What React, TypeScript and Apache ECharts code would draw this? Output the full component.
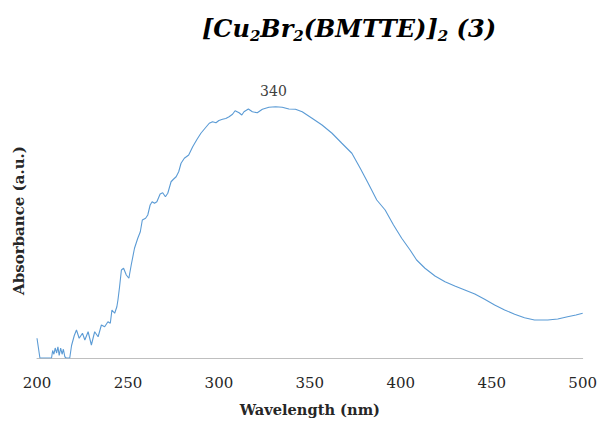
import React, { useEffect, useRef } from "react";
import * as echarts from "echarts";

const wavelength = [
  200, 201.6, 208, 208.6, 209.3, 210, 210.8, 211.5, 212.2, 213, 213.8, 214.5, 215.3, 216, 218, 219, 220.5,
  221.7, 223.2, 225, 226.3, 228.1, 229.9, 231.7, 233.6, 235.4, 237.2, 239, 240.3, 241.2, 242.7, 243.9,
  244.5, 245.4, 246.4, 247.6, 249.1, 250.5, 251.8, 253.6, 255.4, 256.8, 257.9, 259.7, 260.9, 262.2,
  263.3, 264.6, 265.9, 267.7, 269.1, 270.6, 271.9, 273.7, 275, 276.5, 277.9, 279.2, 281, 283.4, 285.6,
  288, 290.1, 292.5, 294.7, 296.5, 298.4, 300, 302, 303.8, 305.6, 307.5, 308.9, 310, 311.1, 312.6,
  313.8, 316.2, 318.4, 321.1, 323.9, 327.5, 331.2, 334.8, 338.5, 342.1, 345.8, 351.2, 356.7, 362.2,
  367.6, 373.1, 377.7, 382, 386.8, 391.4, 396, 400.5, 405.1, 408.7, 413.3, 418.8, 424.3, 429.7, 435.2,
  440.7, 446.1, 451.6, 457.1, 462.6, 468, 473.5, 480.8, 486.3, 491.7, 496.3, 500,
];

const absorbance = [
  0.079, 0.0, 0.0, 0.03, 0.015, 0.04, 0.02, 0.045, 0.01, 0.04, 0.015, 0.035, 0.005, 0.0, 0.0, 0.05, 0.09,
  0.112, 0.079, 0.099, 0.072, 0.105, 0.052, 0.105, 0.085, 0.132, 0.125, 0.145, 0.139, 0.192, 0.179, 0.205,
  0.232, 0.285, 0.352, 0.359, 0.332, 0.319, 0.372, 0.439, 0.479, 0.505, 0.552, 0.559, 0.572, 0.612,
  0.625, 0.619, 0.625, 0.656, 0.661, 0.645, 0.659, 0.705, 0.715, 0.725, 0.745, 0.779, 0.799, 0.812, 0.845,
  0.875, 0.899, 0.92, 0.939, 0.945, 0.941, 0.95, 0.955, 0.958, 0.965, 0.975, 0.989, 0.985, 0.981, 0.972,
  0.985, 0.996, 0.985, 0.981, 0.995, 1.003, 1.005, 1.003, 0.996, 0.995, 0.985, 0.959, 0.932, 0.899,
  0.859, 0.819, 0.759, 0.7, 0.632, 0.592, 0.532, 0.479, 0.432, 0.392, 0.359, 0.328, 0.305, 0.288, 0.272,
  0.256, 0.235, 0.212, 0.192, 0.175, 0.161, 0.152, 0.152, 0.156, 0.165, 0.172, 0.179,
];

const peakLabel = "340";
const peakCoord = [330, 1.005];
const xTitle = "Wavelength (nm)";
const yTitle = "Absorbance (a.u.)";

const SERIF = "'DejaVu Serif', 'Liberation Serif', serif";

export default function App() {
  const ref = useRef<HTMLDivElement>(null);
  useEffect(() => {
    if (!ref.current) return;
    document.body.style.margin = "0";
    const chart = echarts.init(ref.current, undefined, { renderer: "svg" });
    const data = wavelength.map((w, i) => [w, absorbance[i]]);
    chart.setOption({
      animation: false,
      backgroundColor: "#ffffff",
      grid: { left: 37, right: 15, top: 83, bottom: 67 },
      graphic: [
        {
          type: "text",
          x: 349,
          y: 28,
          style: {
            text: "{m|[Cu}{s|2}{m|Br}{s|2}{m|(BMTTE)]}{s|2}{m| (3)}",
            align: "center",
            verticalAlign: "middle",
            rich: {
              m: { fontFamily: SERIF, fontSize: 24, fontWeight: "bold", fontStyle: "italic", lineHeight: 30, fill: "#000" },
              s: { fontFamily: SERIF, fontSize: 15, fontWeight: "bold", fontStyle: "italic", lineHeight: 16, verticalAlign: "bottom", fill: "#000" },
            },
          },
        },
      ],
      xAxis: {
        type: "value",
        min: 200,
        max: 500,
        interval: 50,
        name: xTitle,
        nameLocation: "middle",
        nameGap: 44,
        nameTextStyle: { fontFamily: SERIF, fontSize: 14.6, fontWeight: "bold", color: "#262626" },
        axisLine: { show: true, lineStyle: { color: "#bfbfbf", width: 1 } },
        axisTick: { show: false },
        splitLine: { show: false },
        axisLabel: { margin: 17, fontFamily: SERIF, fontSize: 15, color: "#262626" },
      },
      yAxis: {
        type: "value",
        min: 0,
        max: 1.1,
        name: yTitle,
        nameLocation: "middle",
        nameGap: 11,
        nameRotate: 90,
        nameTextStyle: { fontFamily: SERIF, fontSize: 15, fontWeight: "bold", color: "#262626" },
        axisLine: { show: false },
        axisTick: { show: false },
        splitLine: { show: false },
        axisLabel: { show: false },
      },
      series: [
        {
          type: "line",
          data,
          showSymbol: false,
          symbol: "none",
          lineStyle: { color: "#5b9bd5", width: 1.1 },
          markPoint: {
            symbol: "circle",
            symbolSize: 1,
            itemStyle: { color: "rgba(0,0,0,0)" },
            label: {
              show: true,
              position: "top",
              distance: 8,
              formatter: peakLabel,
              fontFamily: SERIF,
              fontSize: 14,
              color: "#404040",
            },
            data: [{ coord: peakCoord }],
          },
        },
      ],
    });
    return () => chart.dispose();
  }, []);
  return <div ref={ref} style={{ width: 600, height: 425 }} />;
}
